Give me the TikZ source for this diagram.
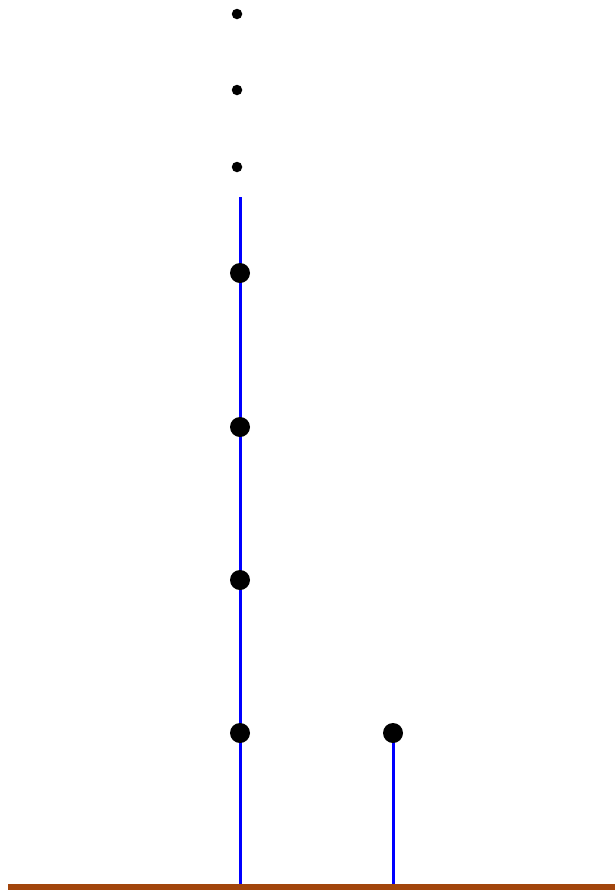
\documentclass[tikz,border=0pt]{standalone}
\usepackage{xcolor}
\definecolor{rust}{HTML}{A2450C}
\definecolor{stick}{HTML}{0000FF}
\usetikzlibrary{positioning}
\tikzset{
  bead/.style={circle, fill=black, inner sep=0pt, minimum size=20pt},
  dotbead/.style={circle, fill=black, inner sep=0pt, minimum size=10.5pt},
  rod/.style={draw=stick, line width=3pt},
  ground/.style={draw=rust, line width=6pt},
}
\begin{document}
\begin{tikzpicture}[x=1pt, y=-1pt]
  \useasboundingbox (0,0) rectangle (615,892);
  \coordinate (gl) at (8,887);
  \coordinate (gr) at (615,887);
  \coordinate (topA) at (240,197);
  \coordinate (baseA) at (240,884);
  \coordinate (baseB) at (393,884);
  \coordinate (topB) at (393,733);
  % rods and ground
  \draw[rod] (baseA) -- (topA);
  \draw[rod] (baseB) -- (topB);
  \draw[ground] (gl) -- (gr);
  % stacked beads
  \node[bead] (a1) at (240,733) {};
  \node[bead] (a2) at (240,580) {};
  \node[bead] (a3) at (240,427) {};
  \node[bead] (a4) at (240,273) {};
  \node[bead] (b1) at (topB) {};
  % ellipsis above the stack
  \node[dotbead] (e1) at (237,167) {};
  \node[dotbead] (e2) at (237,90) {};
  \node[dotbead] (e3) at (237,14) {};
\end{tikzpicture}
\end{document}
